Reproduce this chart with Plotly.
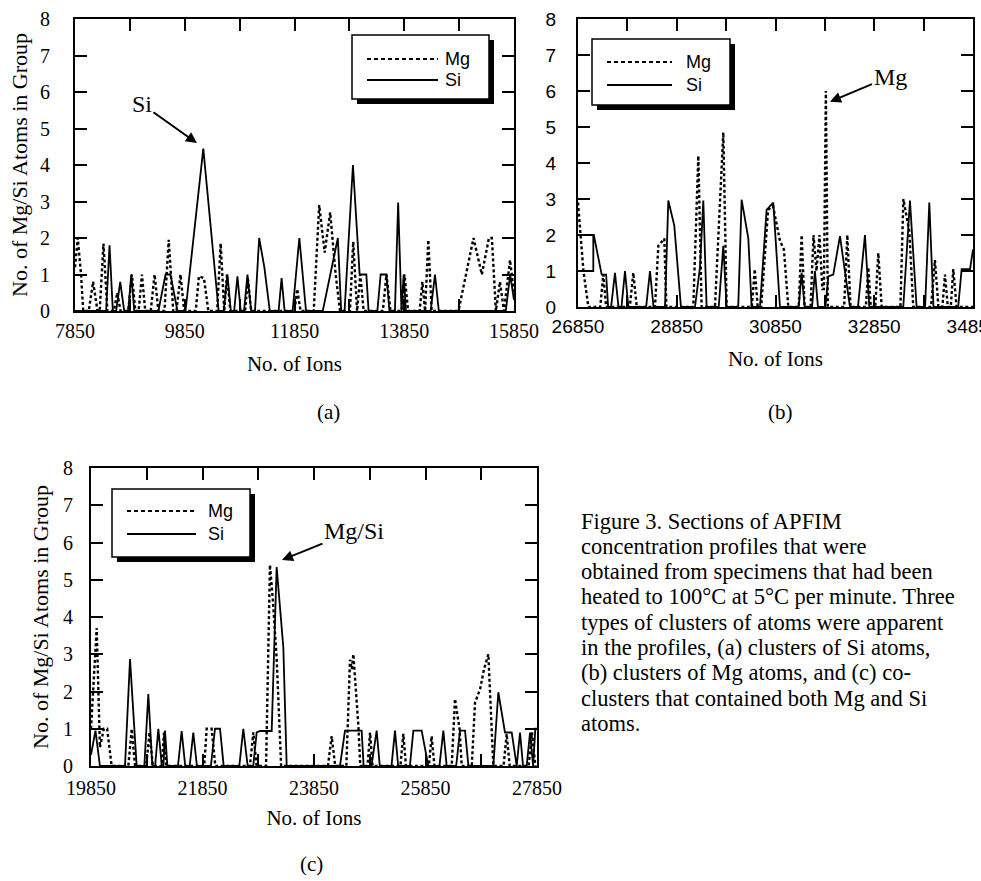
import plotly.graph_objects as go

W, H = 981, 881

# ---------------- data (ion number of each vertex, atoms in group) ----------------
# Panel (a)
a_si_ions = [7850, 8417, 8479, 8540, 8600, 8674, 8747, 8820, 8875, 8930, 9370, 9500, 9590, 9717,
             9864, 10188, 10468, 10560, 10627, 10690, 10750, 10810, 10870, 10930, 10993, 11060,
             11130, 11206, 11300, 11400, 11560, 11615, 11670, 11816, 11938, 12060, 12365, 12640,
             12701, 12762, 12915, 13037, 13159, 13200, 13360, 13420, 13525, 13580, 13680, 13739,
             13800, 13840, 13880, 14330, 14410, 14480, 15700, 15780, 15850]
a_si = [0, 0, 1.8, 0, 0, 0.8, 0, 0, 1.0, 0, 0, 1.0, 1.0, 0,
        0, 4.45, 0, 0, 1.0, 0, 0, 0.95, 0, 0, 1.0, 0,
        0, 2.0, 1.2, 0, 0, 0.9, 0, 0, 2.0, 0, 0, 2.0,
        0, 0, 4.0, 1.0, 1.0, 0, 0, 1.0, 1.0, 0, 0, 2.97,
        0, 1.0, 0, 0, 1.0, 0, 0, 1.0, 0.3]
a_mg_ions = [7850, 7900, 7960, 8000, 8100, 8180, 8260, 8300, 8369, 8440, 8560, 8620, 8680, 8820,
             8887, 8950, 9010, 9070, 9130, 9230, 9300, 9370, 9480, 9558, 9640, 9700, 9772, 9840,
             10050, 10108, 10200, 10280, 10440, 10504, 10570, 10620, 10680, 10950, 11000, 11060,
             11850, 11900, 11960, 12200, 12300, 12400, 12500, 12600, 12680, 12860, 12920, 12990,
             13050, 13110, 13460, 13525, 13600, 13800, 13855, 13920, 14130, 14180, 14230, 14288,
             14350, 14838, 15112, 15264, 15393, 15447, 15520, 15594, 15667, 15777, 15850]
a_mg = [1.2, 2.0, 1.0, 0, 0, 0.8, 0, 0, 1.85, 0, 0, 0.5, 0, 0,
        1.0, 0, 0, 1.0, 0, 0, 1.0, 0, 0, 1.95, 0, 0, 1.0, 0,
        0, 0.95, 0.9, 0, 0, 1.85, 0, 1.0, 0, 0, 0.9, 0,
        0, 0.6, 0, 0, 2.9, 1.6, 2.7, 1.0, 0, 0, 1.9, 0,
        1.0, 0, 0, 1.0, 0, 0, 1.0, 0, 0, 0.8, 0, 1.95,
        0, 0, 2.0, 1.0, 2.0, 2.0, 0, 0.8, 0, 1.4, 0.5]

# Panel (b)
b_si_ions = [26850, 27160, 27160, 26850, 27170, 27330, 27420, 27460, 27520, 27599, 27670, 27730,
             27802, 27870, 28230, 28308, 28380, 28612, 28679, 28800, 28935, 29219, 29320, 29388,
             29455, 29700, 29793, 29860, 30095, 30164, 30300, 30367, 30535, 30670, 30805, 30940,
             31320, 31379, 31440, 31590, 31649, 31710, 31860, 31920, 32020, 32156, 32358, 32520,
             32662, 32750, 33438, 33573, 33708, 33880, 33965, 34050, 34550, 34620, 34790, 34850]
b_si = [1.0, 1.0, 2.0, 2.0, 2.0, 0.9, 0.9, 0, 0, 0.95, 0, 0,
        1.0, 0, 0, 1.0, 0, 0, 2.96, 2.26, 0, 0, 1.1, 2.96,
        0, 0, 1.7, 0, 0, 2.98, 1.9, 0, 0, 2.7, 2.9, 0,
        0, 0.95, 0, 0, 1.0, 0, 0, 0.85, 0.9, 1.97, 0, 0,
        2.0, 0, 0, 2.96, 0, 0, 2.9, 0, 0, 1.05, 1.05, 1.6]
b_mg_ions = [26850, 26900, 26960, 27060, 27300, 27363, 27420, 27900, 27970, 28040, 28409, 28477,
             28598, 28640, 29185, 29287, 29354, 29624, 29793, 29861, 30370, 30430, 30490, 30560,
             30700, 30800, 30940, 31020, 31109, 31320, 31379, 31440, 31560, 31620, 31680, 31740,
             31800, 31830, 31870, 31910, 32240, 32304, 32370, 32680, 32730, 32780, 32870, 32932,
             33000, 33380, 33440, 33560, 33640, 34000, 34079, 34150, 34230, 34282, 34340, 34400,
             34450, 34518, 34850]
b_mg = [2.9, 2.0, 1.0, 0, 0, 0.9, 0, 0, 0.95, 0, 0, 1.7,
        1.9, 0, 0, 4.2, 0, 0, 4.85, 0, 0, 1.05, 0, 0,
        2.7, 2.8, 1.84, 1.6, 0, 0, 2.0, 0, 0, 2.0, 1.0, 2.0,
        0.5, 0.5, 6.0, 0, 0, 2.0, 0, 0, 1.1, 0, 0, 1.5,
        0, 0, 3.0, 2.1, 0, 0, 1.3, 0, 0, 0.9, 0, 0,
        1.05, 0, 0]

# Panel (c)
c_si_ions = [19850, 19930, 20010, 20460, 20550, 20669, 20807, 20878, 20950, 21000, 21058, 21120,
             21150, 21177, 21220, 21410, 21476, 21540, 21620, 21685, 21750, 22000, 22074, 22164,
             22230, 22510, 22582, 22660, 22760, 22822, 22881, 23091, 23180, 23300, 23360, 24316,
             24406, 24705, 24740, 24880, 24974, 25030, 25240, 25303, 25360, 25570, 25632, 25781,
             25901, 26100, 26170, 26230, 26400, 26469, 26559, 26620, 27067, 27156, 27276, 27396,
             27486, 27545, 27600, 27665, 27725, 27780, 27820, 27850]
c_si = [0.3, 0.95, 0, 0, 2.87, 0, 0, 1.93, 0, 0, 1.0, 0,
        0, 0.95, 0, 0, 0.94, 0, 0, 0.9, 0, 0, 1.0, 1.0,
        0, 0, 1.0, 0, 0, 0.9, 0.94, 0.94, 5.34, 3.18, 0, 0,
        0.95, 0.95, 0, 0, 0.95, 0, 0, 0.95, 0, 0, 0.95, 0.95,
        0, 0, 0.95, 0, 0, 0.95, 0.95, 0, 0, 1.98, 0.9, 0.9,
        0, 0.9, 0, 0, 0.9, 0, 1.0, 1.0]
c_mg_ions = [19850, 19900, 19952, 20010, 20080, 20140, 20220, 20520, 20580, 20640, 20840, 20900,
             20960, 21120, 21160, 21200, 21880, 21925, 22014, 22080, 22700, 22762, 22820, 22990,
             23060, 23110, 23180, 23260, 24100, 24167, 24230, 24430, 24496, 24530, 24556, 24645,
             24680, 24810, 24855, 24900, 25400, 25452, 25500, 25910, 25960, 26010, 26320, 26379,
             26460, 26500, 26680, 26738, 26830, 26900, 26977, 27067, 27250, 27306, 27360, 27700,
             27760, 27820]
c_mg = [1.0, 2.5, 3.7, 0.5, 1.0, 1.0, 0, 0, 1.0, 0, 0, 0.9,
        0, 0, 0.9, 0, 0, 1.0, 1.0, 0, 0, 0.9, 0, 0,
        5.4, 4.5, 2.9, 0, 0, 0.8, 0, 0, 2.85, 2.6, 3.0, 1.1,
        0, 0, 0.9, 0, 0, 0.86, 0, 0, 0.8, 0, 0, 1.8,
        1.0, 0, 0, 1.7, 2.07, 2.6, 3.0, 0, 0, 0.86, 0, 0,
        0.9, 0]

a_xlabels = ["7850", "9850", "11850", "13850", "15850"]
b_xlabels = ["26850", "28850", "30850", "32850", "34850"]
c_xlabels = ["19850", "21850", "23850", "25850", "27850"]
y_labels = ["0", "1", "2", "3", "4", "5", "6", "7", "8"]

caption_lines = [
    "Figure 3. Sections of APFIM",
    "concentration profiles that were",
    "obtained from specimens that had been",
    "heated to 100°C at 5°C per minute. Three",
    "types of clusters of atoms were apparent",
    "in the profiles, (a) clusters of Si atoms,",
    "(b) clusters of Mg atoms, and (c) co-",
    "clusters that contained both Mg and Si",
    "atoms.",
]

# ---------------- layout helpers ----------------
SERIF = "Liberation Serif"
SANS = "Liberation Sans"


def fx(p):
    return p / W


def fy(p):
    return 1 - p / H


panels = [
    dict(key="", si=(a_si_ions, a_si), mg=(a_mg_ions, a_mg), xl=a_xlabels, x0=7850,
         box=(75, 19, 514, 311), tickfont=SERIF, ytitle=True, tstand=1, ystand=19,
         xtstand=15, ytstand=6),
    dict(key="2", si=(b_si_ions, b_si), mg=(b_mg_ions, b_mg), xl=b_xlabels, x0=26850,
         box=(578, 19, 973, 307), tickfont=SANS, ytitle=False, tstand=1, ystand=16,
         xtstand=16, ytstand=6),
    dict(key="3", si=(c_si_ions, c_si), mg=(c_mg_ions, c_mg), xl=c_xlabels, x0=19850,
         box=(91, 468, 537, 766), tickfont=SERIF, ytitle=True, tstand=3, ystand=12,
         xtstand=12, ytstand=8),
]

fig = go.Figure()
layout = dict(width=W, height=H, margin=dict(l=0, r=0, t=0, b=0, autoexpand=False),
              paper_bgcolor="white", plot_bgcolor="white", showlegend=False,
              font=dict(family=SERIF, color="black"))

for p in panels:
    k = p["key"]
    xa, ya = "x" + k, "y" + k
    fig.add_trace(go.Scatter(x=p["mg"][0], y=p["mg"][1], mode="lines", name="Mg",
                             xaxis=xa, yaxis=ya,
                             line=dict(color="black", width=2.4, dash="3px,2.5px")))
    fig.add_trace(go.Scatter(x=p["si"][0], y=p["si"][1], mode="lines", name="Si",
                             xaxis=xa, yaxis=ya,
                             line=dict(color="black", width=1.8)))
    l, t, r, b = p["box"]
    x0 = p["x0"]
    tickvals = [x0 + 1000 * i for i in range(9)]
    ticktext = [p["xl"][i // 2] if i % 2 == 0 else "" for i in range(9)]
    tsize = 20 if p["tickfont"] == SERIF else 19
    common = dict(showline=True, linecolor="black", linewidth=2, mirror="ticks",
                  ticks="inside", ticklen=12, tickwidth=2, tickcolor="black",
                  showgrid=False, zeroline=False, fixedrange=True, automargin=False,
                  ticklabeloverflow="allow",
                  tickfont=dict(family=p["tickfont"], size=tsize, color="black"))
    layout["xaxis" + k] = dict(common, domain=[fx(l), fx(r)], anchor=ya,
                               range=[x0, x0 + 8000], tickvals=tickvals, ticktext=ticktext,
                               ticklabelstandoff=p["tstand"],
                               title=dict(text="No. of Ions", standoff=p["xtstand"],
                                          font=dict(family=SERIF, size=21)))
    ydict = dict(common, domain=[fy(b), fy(t)], anchor=xa, range=[0, 8],
                 tickvals=list(range(9)), ticktext=y_labels,
                 ticklabelstandoff=p["ystand"])
    if p["ytitle"]:
        ydict["title"] = dict(text="No. of Mg/Si Atoms in Group", standoff=p["ytstand"],
                              font=dict(family=SERIF, size=22))
    layout["yaxis" + k] = ydict

fig.update_layout(**layout)

shapes = []
annotations = []

# hand-drawn style legend boxes with drop shadow
legends = [
    dict(box=(352, 35, 489, 99), y_mg=59, y_si=80, lx=(367, 438), tx=443),
    dict(box=(592, 39, 730, 105), y_mg=62, y_si=85, lx=(607, 672), tx=684),
    dict(box=(112, 489, 250, 557), y_mg=511, y_si=534, lx=(127, 196), tx=206),
]
for lg in legends:
    x0, y0, x1, y1 = lg["box"]
    shapes.append(dict(type="rect", xref="paper", yref="paper", x0=fx(x0 + 5), x1=fx(x1 + 5),
                       y0=fy(y1 + 5), y1=fy(y0 + 5), fillcolor="black", line=dict(width=0)))
    shapes.append(dict(type="rect", xref="paper", yref="paper", x0=fx(x0), x1=fx(x1),
                       y0=fy(y1), y1=fy(y0), fillcolor="white",
                       line=dict(color="black", width=1.5)))
    shapes.append(dict(type="line", xref="paper", yref="paper", x0=fx(lg["lx"][0]),
                       x1=fx(lg["lx"][1]), y0=fy(lg["y_mg"]), y1=fy(lg["y_mg"]),
                       line=dict(color="black", width=2, dash="4px,3px")))
    shapes.append(dict(type="line", xref="paper", yref="paper", x0=fx(lg["lx"][0]),
                       x1=fx(lg["lx"][1]), y0=fy(lg["y_si"]), y1=fy(lg["y_si"]),
                       line=dict(color="black", width=1.8)))
    for txt, yy in (("Mg", lg["y_mg"]), ("Si", lg["y_si"])):
        annotations.append(dict(text=txt, xref="paper", yref="paper", x=fx(lg["tx"]), y=fy(yy),
                                xanchor="left", yanchor="middle", showarrow=False,
                                font=dict(family=SANS, size=18, color="black")))

# pointer labels
pointers = [
    dict(text="Si", xref="x", yref="y", x=10072, y=4.6, ax=9070, ay=5.67),
    dict(text="Mg", xref="x2", yref="y2", x=31954, y=5.7, ax=33169, ay=6.4),
    dict(text="Mg/Si", xref="x3", yref="y3", x=23276, y=5.53, ax=24567, ay=6.31),
]
for pt in pointers:
    annotations.append(dict(text=pt["text"], xref=pt["xref"], yref=pt["yref"], x=pt["x"], y=pt["y"],
                            axref=pt["xref"], ayref=pt["yref"], ax=pt["ax"], ay=pt["ay"],
                            showarrow=True, arrowhead=2, arrowsize=1.1, arrowwidth=2,
                            arrowcolor="black",
                            font=dict(family=SERIF, size=24, color="black")))

# panel letters
for txt, xx, yy in (("(a)", 328, 412), ("(b)", 780, 412), ("(c)", 311, 864)):
    annotations.append(dict(text=txt, xref="paper", yref="paper", x=fx(xx), y=fy(yy),
                            xanchor="center", yanchor="middle", showarrow=False,
                            font=dict(family=SERIF, size=21, color="black")))

# caption
for i, line in enumerate(caption_lines):
    annotations.append(dict(text=line, xref="paper", yref="paper", x=fx(579), y=fy(521 + 25.3 * i),
                            xanchor="left", yanchor="middle", showarrow=False,
                            font=dict(family=SERIF, size=22.5, color="black")))

fig.update_layout(shapes=shapes, annotations=annotations)
fig.write_html("out.html", config={"displayModeBar": False, "staticPlot": True},
               post_script="document.body.style.margin='0';document.body.style.overflow='hidden';")
